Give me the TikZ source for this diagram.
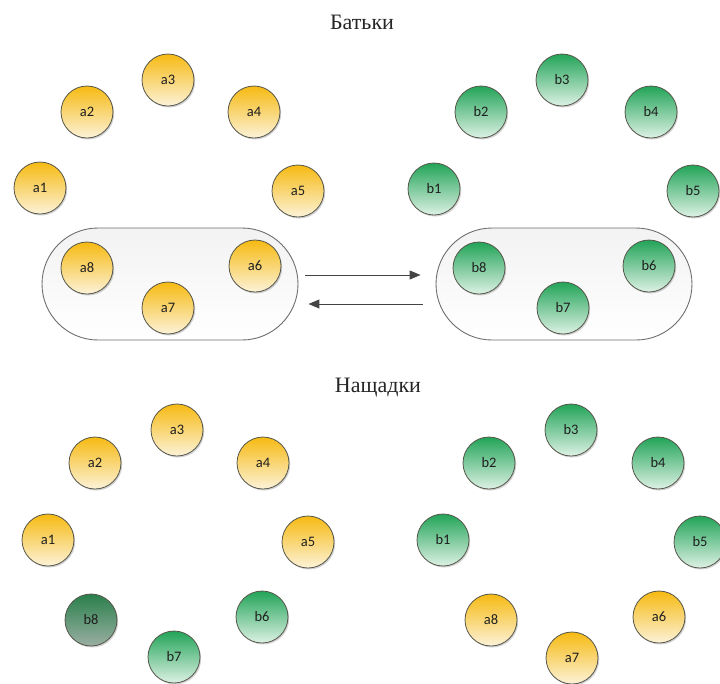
\documentclass[tikz,border=0pt]{standalone}
\usepackage{fontspec}
\setmainfont{Liberation Serif}
\newfontfamily\nodefont{Carlito}
\usetikzlibrary{shapes.misc,arrows.meta,shadows,calc}
\definecolor{ytop}{HTML}{F6BA12}
\definecolor{ybot}{HTML}{FCF2D8}
\definecolor{gtop}{HTML}{22A458}
\definecolor{gbot}{HTML}{DDF1E4}
\definecolor{dgtop}{HTML}{2A7F4C}
\definecolor{dgbot}{HTML}{9AAFA2}
\definecolor{rimc}{HTML}{55554A}
\definecolor{pillc}{HTML}{6E6E6E}
\definecolor{arrc}{HTML}{444444}
\tikzset{
  ball/.style={circle,minimum size=52pt,inner sep=0pt,draw=rimc,line width=0.8pt,
    font=\nodefont\fontsize{14.5}{14.5}\selectfont,text=black!88,
    drop shadow={shadow xshift=1.2pt,shadow yshift=-1.5pt,opacity=0.18,fill=black}},
  yb/.style={ball,top color=ytop,bottom color=ybot},
  gb/.style={ball,top color=gtop,bottom color=gbot},
  dgb/.style={ball,top color=dgtop,bottom color=dgbot},
  pill/.style={rounded rectangle,draw=pillc,line width=0.9pt,minimum width=256pt,minimum height=112pt,
    top color=black!5,bottom color=white,inner sep=0pt},
  arr/.style={draw=arrc,line width=1pt,-{Triangle[length=11pt,width=9pt]}},
  ttl/.style={font=\fontsize{22}{22}\selectfont,text=black!85}
}
\begin{document}
\begin{tikzpicture}[x=1pt,y=-1pt]
\useasboundingbox (0,0) rectangle (720,683);
% titles
\node[ttl] (t1) at (362,22) {Батьки};
\node[ttl] (t2) at (378,388) {Нащадки};
% pills
\node[pill] (pillA) at (170,284) {};
\node[pill] (pillB) at (564,284) {};
% top-left parents
\node[yb] (a1) at (40,188) {a1};
\node[yb] (a2) at (87,112) {a2};
\node[yb] (a3) at (168,80) {a3};
\node[yb] (a4) at (254,112) {a4};
\node[yb] (a5) at (298,191) {a5};
\node[yb] (a8) at (87,268) {a8};
\node[yb] (a7) at (168,308) {a7};
\node[yb] (a6) at (255,266) {a6};
% top-right parents
\node[gb] (b1) at (434,189) {b1};
\node[gb] (b2) at (481,112) {b2};
\node[gb] (b3) at (562,80) {b3};
\node[gb] (b4) at (651,112) {b4};
\node[gb] (b5) at (693,191) {b5};
\node[gb] (b8) at (479,268) {b8};
\node[gb] (b7) at (563,308) {b7};
\node[gb] (b6) at (649,266) {b6};
% arrows
\draw[arr] ([xshift=7pt,yshift=9pt]pillA.east) -- ([xshift=-15pt,yshift=9pt]pillB.west);
\draw[arr] ([xshift=-13pt,yshift=-20pt]pillB.west) -- ([xshift=10pt,yshift=-20pt]pillA.east);
% bottom-left offspring
\node[yb] (c1) at (48,540) {a1};
\node[yb] (c2) at (95,463) {a2};
\node[yb] (c3) at (177,430) {a3};
\node[yb] (c4) at (263,463) {a4};
\node[yb] (c5) at (308,542) {a5};
\node[dgb] (c8) at (91,620) {b8};
\node[gb] (c6) at (262,617) {b6};
\node[gb] (c7) at (174,657) {b7};
% bottom-right offspring
\node[gb] (d1) at (443,540) {b1};
\node[gb] (d2) at (489,463) {b2};
\node[gb] (d3) at (571,430) {b3};
\node[gb] (d4) at (658,463) {b4};
\node[gb] (d5) at (700,542) {b5};
\node[yb] (d8) at (491,620) {a8};
\node[yb] (d6) at (659,617) {a6};
\node[yb] (d7) at (572,658) {a7};
\end{tikzpicture}
\end{document}
